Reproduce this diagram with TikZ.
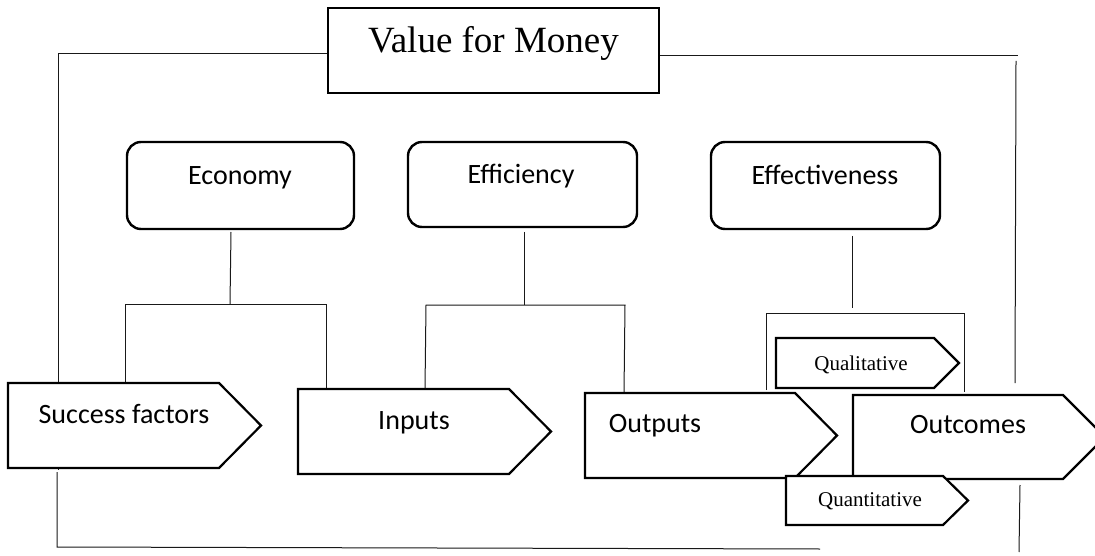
\documentclass[tikz,border=0pt]{standalone}
\usepackage{fontspec}
\setmainfont{Liberation Serif}
\newfontfamily\calib{Carlito}
\begin{document}
\begin{tikzpicture}[x=1pt,y=-1pt,
  conn/.style={line width=1pt, draw=black!90},
  rbox/.style={draw, line width=2.4pt, rounded corners=14pt, fill=white, inner sep=0pt},
  vbox/.style={draw, line width=1.3pt, fill=white, inner sep=0pt},
  abox/.style={draw, line width=2.2pt, fill=white, line join=miter},
  sanslab/.style={font=\calib\fontsize{28}{34}\selectfont, anchor=base, inner sep=0pt},
  biglab/.style={font=\fontsize{37}{44}\selectfont, anchor=base, inner sep=0pt},
  serlab/.style={font=\fontsize{21}{25}\selectfont, anchor=base, inner sep=0pt}]
\useasboundingbox (0,0) rectangle (1095,556);
\fill[white] (0,0) rectangle (1095,556);

% coordinates for connector ends
\coordinate (tlA) at (328,54); \coordinate (tlB) at (58,54); \coordinate (tlC) at (58,470);
\coordinate (trA) at (659,56); \coordinate (trB) at (1018,56);
\coordinate (rvA) at (1016,61); \coordinate (rvB) at (1015,383);
\coordinate (btA) at (57,472); \coordinate (btB) at (57,547); \coordinate (btC) at (820,549);
\coordinate (rlA) at (1020,485); \coordinate (rlB) at (1019,552);
\coordinate (ecA) at (231,232); \coordinate (ecB) at (230,304);
\coordinate (ecL) at (125,304); \coordinate (ecR) at (326,304);
\coordinate (ecLd) at (125,386); \coordinate (ecRd) at (326,389);
\coordinate (efA) at (524,232); \coordinate (efB) at (524,305);
\coordinate (efL) at (426,305); \coordinate (efR) at (625,305);
\coordinate (efLd) at (425,389); \coordinate (efRd) at (624,393);
\coordinate (evA) at (852,236); \coordinate (evB) at (852,308);
\coordinate (evL) at (766,313); \coordinate (evR) at (964,313);
\coordinate (evLd) at (766,390); \coordinate (evRd) at (964,392);

% connectors
\draw[conn] (tlA) -- (tlB) -- (tlC);
\draw[conn] (trA) -- (trB);
\draw[conn] (rvA) -- (rvB);
\draw[conn] (btA) -- (btB) -- (btC);
\draw[conn] (rlA) -- (rlB);
\draw[conn] (ecA) -- (ecB);
\draw[conn] (ecLd) -- (ecL) -- (ecR) -- (ecRd);
\draw[conn] (efA) -- (efB);
\draw[conn] (efLd) -- (efL) -- (efR) -- (efRd);
\draw[conn] (evA) -- (evB);
\draw[conn] (evLd) -- (evL) -- (evR) -- (evRd);

% top box
\node[vbox, minimum width=331pt, minimum height=85pt] (vfm) at (493.5,50.5) {};
\node[biglab] (vfmt) at (493.5,53) {Value for Money};

% rounded boxes
\node[rbox, minimum width=227pt, minimum height=87pt] (eco) at (240.5,185.5) {};
\node[sanslab] (ecot) at (240,185) {Economy};
\node[rbox, minimum width=229pt, minimum height=85pt] (eff) at (522.5,184.5) {};
\node[sanslab] (efft) at (521,184) {Efficiency};
\node[rbox, minimum width=229pt, minimum height=87pt] (efv) at (825.5,185.5) {};
\node[sanslab] (efvt) at (825,185) {Effectiveness};

% arrow boxes
\draw[abox] (8,383) -- (219,383) -- (261,425.5) -- (219,468) -- (8,468) -- cycle;
\node[sanslab] (succ) at (124,423) {Success factors};
\draw[abox] (298,389) -- (509,389) -- (551,431.5) -- (509,474) -- (298,474) -- cycle;
\node[sanslab] (inp) at (414,429) {Inputs};
\draw[abox] (585,393) -- (795,393) -- (837,435.5) -- (795,478) -- (585,478) -- cycle;
\node[sanslab] (outp) at (655,432) {Outputs};
\draw[abox] (853,395) -- (1063,395) -- (1105,437) -- (1063,479) -- (853,479) -- cycle;
\node[sanslab] (outc) at (968,433) {Outcomes};
\draw[abox] (776,338) -- (934,338) -- (959,363) -- (934,388) -- (776,388) -- cycle;
\node[serlab] (qual) at (861,370) {Qualitative};
\draw[abox] (786,476) -- (943,476) -- (968,500.5) -- (943,525) -- (786,525) -- cycle;
\node[serlab] (quan) at (870,506) {Quantitative};
\end{tikzpicture}
\end{document}
